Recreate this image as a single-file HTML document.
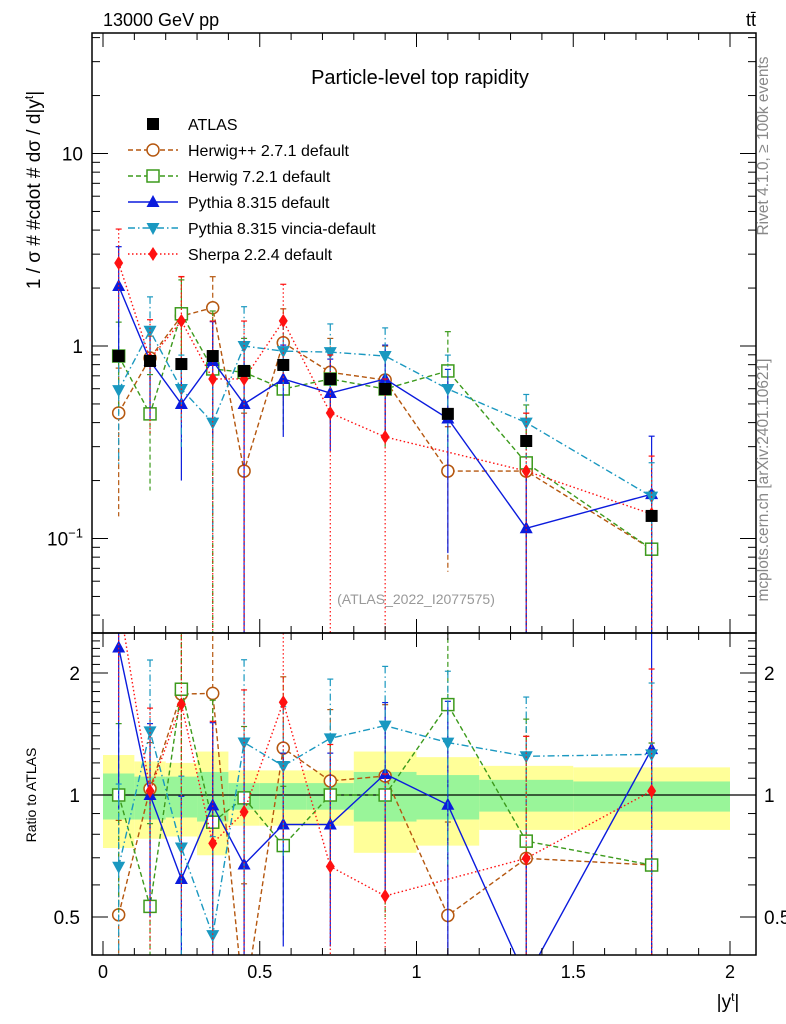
<!DOCTYPE html>
<html><head><meta charset="utf-8"><style>
html,body{margin:0;background:#fff;width:786px;height:1024px;overflow:hidden;}
svg{display:block;font-family:"Liberation Sans",sans-serif;}
</style></head><body>
<svg id="c" width="786" height="1024" xmlns="http://www.w3.org/2000/svg">
<defs>
<clipPath id="cm"><rect x="92" y="33" width="664" height="600"/></clipPath>
<clipPath id="cr"><rect x="92" y="633" width="664" height="322"/></clipPath>
</defs>
<g id="bands" clip-path="url(#cr)"></g>
<g id="grid"></g>
<g id="mainG" clip-path="url(#cm)"></g>
<g id="ratG" clip-path="url(#cr)"></g>
<rect x="92" y="33" width="664" height="600" fill="none" stroke="#000" stroke-width="1.5"/>
<rect x="92" y="633" width="664" height="322" fill="none" stroke="#000" stroke-width="1.5"/>
<g id="axes"></g>
<text x="103" y="26" font-size="18">13000 GeV pp</text>
<text x="756" y="26" font-size="18" text-anchor="end">tt̄</text>
<text x="420" y="84" font-size="20" text-anchor="middle">Particle-level top rapidity</text>
<text x="416" y="604" font-size="14" fill="#999" text-anchor="middle">(ATLAS_2022_I2077575)</text>
<text transform="translate(40,190) rotate(-90)" font-size="19" text-anchor="middle">1 / σ # #cdot # dσ / d|y<tspan dy="-7" font-size="12">t</tspan><tspan dy="7">|</tspan></text>
<text transform="translate(36,795) rotate(-90)" font-size="14" text-anchor="middle">Ratio to ATLAS</text>
<text x="728" y="1008" font-size="19" text-anchor="middle">|y<tspan dy="-7" font-size="12">t</tspan><tspan dy="7">|</tspan></text>
<text transform="translate(768,146) rotate(-90)" font-size="15.5" fill="#888" text-anchor="middle">Rivet 4.1.0, ≥ 100k events</text>
<text transform="translate(768,480) rotate(-90)" font-size="15.5" fill="#888" text-anchor="middle">mcplots.cern.ch [arXiv:2401.10621]</text>
<g id="legend"></g>
</svg>
<script>
const NS="http://www.w3.org/2000/svg";
const xs=[0.05,0.15,0.25,0.35,0.45,0.575,0.725,0.9,1.1,1.35,1.75];
const atlas=[0.887,0.836,0.806,0.887,0.742,0.797,0.674,0.598,0.444,0.321,0.131];
const herwigpp=[0.449,0.866,1.43,1.58,0.224,1.04,0.73,0.666,0.224,0.224,0.088];
const herwig7=[0.887,0.444,1.47,0.76,0.73,0.598,0.674,0.598,0.742,0.247,0.088];
const pythia=[2.05,0.836,0.5,0.836,0.5,0.674,0.57,0.674,0.42,0.113,0.17];
const vincia=[0.59,1.2,0.598,0.40,1.0,0.94,0.93,0.887,0.598,0.40,0.165];
const sherpa=[2.7,0.856,1.35,0.674,0.674,1.35,0.449,0.337,null,0.224,0.134];
const errAtlas=[0.05,0.05,0.05,0.05,0.05,0.05,0.05,0.05,0.05,0.05,0.05];
const errHpp=[0.71,0.3,0.6,0.45,1,0.5,0.5,0.5,0.7,1,1];
const errH7=[0.5,0.6,0.5,1,0.5,0.4,0.4,0.5,0.6,1,1];
const errPy=[0.6,0.5,0.6,0.6,1,0.5,0.5,0.5,0.8,1,1];
const errVin=[0.6,0.5,0.5,0.75,0.6,0.4,0.4,0.4,0.5,0.4,0.5];
const errSh=[0.5,0.6,0.7,1,1,0.55,1,1,1,1,1];
const bandEdges=[0,0.1,0.2,0.3,0.4,0.5,0.65,0.8,1.0,1.2,1.5,2.0];
const yelUp=[1.255,1.21,1.20,1.28,1.15,1.15,1.15,1.28,1.24,1.18,1.17];
const yelDn=[0.74,0.78,0.79,0.71,0.84,0.84,0.84,0.72,0.75,0.82,0.82];
const grnUp=[1.13,1.11,1.11,1.14,1.07,1.07,1.07,1.14,1.12,1.09,1.08];
const grnDn=[0.87,0.87,0.88,0.86,0.92,0.92,0.92,0.86,0.87,0.91,0.91];
const xTicks=[0,0.5,1,1.5,2];
const ratioTicks=[0.5,1,2];

const X=v=>103+v*313.5;
const Y=v=>346-Math.log10(v)*192.5;
const R=v=>795-Math.log2(v)*122;
function mk(tag,attrs,parent){const e=document.createElementNS(NS,tag);for(const k in attrs)e.setAttribute(k,attrs[k]);parent.appendChild(e);return e;}

const bg=document.getElementById('bands');
for(let i=0;i<yelUp.length;i++){
  const r1=mk('rect',{x:X(bandEdges[i]),y:R(yelUp[i]),width:X(bandEdges[i+1])-X(bandEdges[i]),height:R(yelDn[i])-R(yelUp[i]),fill:'#ffff99'},bg);
  
  
}
for(let i=0;i<grnUp.length;i++){
  const r2=mk('rect',{x:X(bandEdges[i]),y:R(grnUp[i]),width:X(bandEdges[i+1])-X(bandEdges[i]),height:R(grnDn[i])-R(grnUp[i]),fill:'#99f599'},bg);
  
  
}
const one=mk('line',{x1:92,x2:756,y1:R(1),y2:R(1),stroke:'#000','stroke-width':1.2},bg);



const ax=document.getElementById('axes');
for(let i=0;i<=20;i++){
  const v=i*0.1, x=X(v), L=(i%5==0)?14:7;
  [[633,-1],[955,-1],[33,1],[633,1]].forEach(([y,d])=>mk('line',{x1:x,x2:x,y1:y,y2:y+d*L,stroke:'#000','stroke-width':1},ax));
}
xTicks.forEach(v=>{const t=mk('text',{x:X(v),y:978,'font-size':18,'text-anchor':'middle'},ax);t.textContent=String(v);

});
for(let e=-2;e<=1;e++)for(let m=1;m<10;m++){
  const v=m*Math.pow(10,e), y=Y(v); if(y<33||y>633)continue;
  const L=m==1?16:8;
  mk('line',{x1:92,x2:92+L,y1:y,y2:y,stroke:'#000'},ax);
  mk('line',{x1:756,x2:756-L,y1:y,y2:y,stroke:'#000'},ax);
}
[[10,'10'],[1,'1']].forEach(([v,s])=>{const t=mk('text',{x:83,y:Y(v)+7,'font-size':19,'text-anchor':'end'},ax);t.textContent=s;

});
{const t=mk('text',{x:83,y:Y(0.1)+7,'font-size':19,'text-anchor':'end'},ax);t.innerHTML='10<tspan dy="-8" font-size="13">−1</tspan>';

}
for(let v=0.4;v<=2.5;v+=0.1){
  const vv=Math.round(v*10)/10, y=R(vv); if(y<633||y>955)continue;
  const major=[0.5,1,2].includes(vv); const L=major?16:8;
  mk('line',{x1:92,x2:92+L,y1:y,y2:y,stroke:'#000'},ax);
  mk('line',{x1:756,x2:756-L,y1:y,y2:y,stroke:'#000'},ax);
}
ratioTicks.forEach(v=>{
  const t=mk('text',{x:80,y:R(v)+7,'font-size':19,'text-anchor':'end'},ax);t.textContent=String(v);
  
  
  const t2=mk('text',{x:764,y:R(v)+7,'font-size':19},ax);t2.textContent=String(v);
  
  
});

function marker(g,type,x,y,c){
  let e;
  if(type=='sq') e=mk('rect',{x:x-6,y:y-6,width:12,height:12,fill:'#000'},g);
  else if(type=='circ') e=mk('circle',{cx:x,cy:y,r:6,fill:'#fff',stroke:c,'stroke-width':1.5},g);
  else if(type=='osq') e=mk('rect',{x:x-6,y:y-6,width:12,height:12,fill:'#fff',stroke:c,'stroke-width':1.5},g);
  else if(type=='tri') e=mk('polygon',{points:`${x},${y-7} ${x-6.5},${y+5} ${x+6.5},${y+5}`,fill:c},g);
  else if(type=='itri') e=mk('polygon',{points:`${x},${y+7} ${x-6.5},${y-5} ${x+6.5},${y-5}`,fill:c},g);
  else if(type=='dia') e=mk('polygon',{points:`${x},${y-7} ${x-4.5},${y} ${x},${y+7} ${x+4.5},${y}`,fill:c},g);
  
  
}
const series=[
 {name:'Herwig++ 2.7.1 default',v:herwigpp,e:errHpp,c:'#b5570f',d:'5,3',m:'circ'},
 {name:'Herwig 7.2.1 default',v:herwig7,e:errH7,c:'#3c9a1c',d:'5,3',m:'osq'},
 {name:'Pythia 8.315 default',v:pythia,e:errPy,c:'#0b1bdd',d:'',m:'tri'},
 {name:'Pythia 8.315 vincia-default',v:vincia,e:errVin,c:'#1a98c0',d:'7,3,1.5,3',m:'itri'},
 {name:'Sherpa 2.2.4 default',v:sherpa,e:errSh,c:'#ff1111',d:'1.5,2.5',m:'dia'}
];
function drawSeries(gp,s,fy,ratio,idx){
  const g=mk('g',{},gp);
  
  
  const pts=[];
  s.v.forEach((v,i)=>{
    if(v==null)return;
    const val=ratio?v/atlas[i]:v;
    const hi=val*(1+s.e[i]), lo=s.e[i]>=1?1e-4:val*(1-s.e[i]);
    const x=X(xs[i]);
    mk('line',{x1:x,x2:x,y1:fy(hi),y2:fy(lo),stroke:s.c,'stroke-width':1.2,'stroke-dasharray':s.d},g);
    mk('line',{x1:x-3,x2:x+3,y1:fy(hi),y2:fy(hi),stroke:s.c,'stroke-width':1.2},g);
    pts.push([x,fy(val)]);
  });
  const pl=mk('polyline',{points:pts.map(p=>p.join(',')).join(' '),fill:'none',stroke:s.c,'stroke-width':1.4,'stroke-dasharray':s.d},g);
  
  
  pts.forEach(p=>marker(g,s.m,p[0],p[1],s.c));
}
const mg=document.getElementById('mainG'), rg=document.getElementById('ratG');
series.forEach((s,i)=>drawSeries(mg,s,Y,false,i));
series.forEach((s,i)=>drawSeries(rg,s,R,true,i));
atlas.forEach((v,i)=>marker(mg,'sq',X(xs[i]),Y(v),'#000'));

const lg=document.getElementById('legend');
const entries=[{name:'ATLAS',m:'sq',c:'#000',d:null}].concat(series);
entries.forEach((s,i)=>{
  const y=124+i*26;
  const g=mk('g',{},lg);
  
  
  if(s.d!==null){mk('line',{x1:128,x2:178,y1:y,y2:y,stroke:s.c,'stroke-width':1.4,'stroke-dasharray':s.d},g);}
  marker(g,s.m,153,y,s.c);
  const t=mk('text',{x:188,y:y+6,'font-size':16},g);t.textContent=s.name;
});
</script>
</body></html>
